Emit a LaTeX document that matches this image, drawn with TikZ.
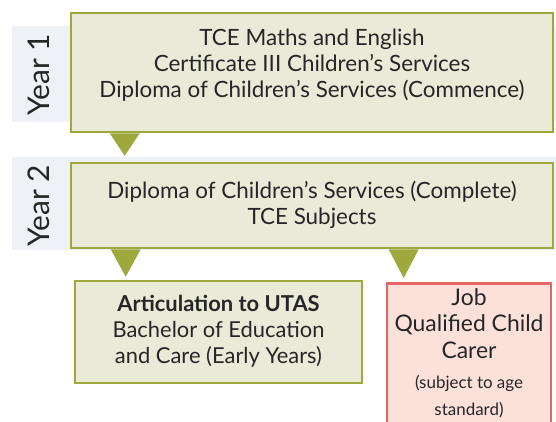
\documentclass[tikz,border=0pt]{standalone}
\usepackage{fontspec}
\setmainfont{Lato}
\usetikzlibrary{calc}
\definecolor{olive}{HTML}{9EA83C}
\definecolor{olivefill}{HTML}{E9EAD7}
\definecolor{band}{HTML}{EEF1F5}
\definecolor{jobline}{HTML}{E66464}
\definecolor{jobfill}{HTML}{FCE1DB}
\definecolor{ink}{HTML}{262626}
\tikzset{
  stagebox/.style={draw=olive, fill=olivefill, line width=2.6bp, inner sep=0pt},
  jobbox/.style={draw=jobline, fill=jobfill, line width=2.6bp, inner sep=0pt},
  boxtext/.style={align=center, text=ink, inner sep=0pt},
  yearlabel/.style={rotate=90, text=ink, font=\fontsize{30}{32}\selectfont},
  pointer/.style={fill=olive}
}
\begin{document}
\begin{tikzpicture}[x=1bp,y=-1bp]
\useasboundingbox (0,0) rectangle (556,421);
\clip (0,0) rectangle (556,421);
\fill[white] (0,0) rectangle (556,421);
% year bands
\fill[band] (12,26) rectangle (556,122);
\fill[band] (12,157) rectangle (556,250);
\node[yearlabel] (y1) at (39,75) {Year 1};
\node[yearlabel] (y2) at (39,206) {Year 2};
% stage boxes
\node[stagebox, minimum width=482bp, minimum height=119bp] (s1) at (312,72.5) {};
\node[stagebox, minimum width=482bp, minimum height=85bp] (s2) at (312,205.5) {};
\node[stagebox, minimum width=287bp, minimum height=102bp] (uni) at (218.5,332) {};
\node[jobbox, minimum width=164bp, minimum height=150bp, anchor=north] (job) at (469,282) {};
% box texts
\node[boxtext, font=\fontsize{22.5}{26}\selectfont] (s1text) at ($(s1.center)+(0,-7)$)
  {TCE Maths and English\\Certificate III Children’s Services\\Diploma of Children’s Services (Commence)};
\node[boxtext, font=\fontsize{22.5}{26}\selectfont] (s2text) at ($(s2.center)+(0,-1)$)
  {Diploma of Children’s Services (Complete)\\TCE Subjects};
\node[boxtext, font=\fontsize{22}{26}\selectfont] (unitext) at ($(uni.center)+(0,-1)$)
  {\bfseries Articulation to UTAS\\Bachelor of Education\\and Care (Early Years)};
\node[boxtext, anchor=north, font=\fontsize{23}{27}\selectfont] (jobtext) at ($(job.north)+(0,6)$)
  {Job\\Qualified Child\\Carer\\[3bp]
   \fontsize{17}{25}\selectfont (subject to age\\\fontsize{17}{25}\selectfont standard)};
% pointers between stages
\fill[pointer] ($(s1.south west)+(40,0)$) -- ($(s1.south west)+(70,0)$)
  -- ($(s2.north west)+(55,-6)$) -- cycle;
\fill[pointer] ($(s2.south west)+(41,0)$) -- ($(s2.south west)+(71,0)$)
  -- ($(uni.north west)+(52,-3)$) -- cycle;
\fill[pointer] ($(s2.south west)+(319,0)$) -- ($(s2.south west)+(349,0)$)
  -- ($(job.north west)+(18,-4)$) -- cycle;
\end{tikzpicture}
\end{document}
